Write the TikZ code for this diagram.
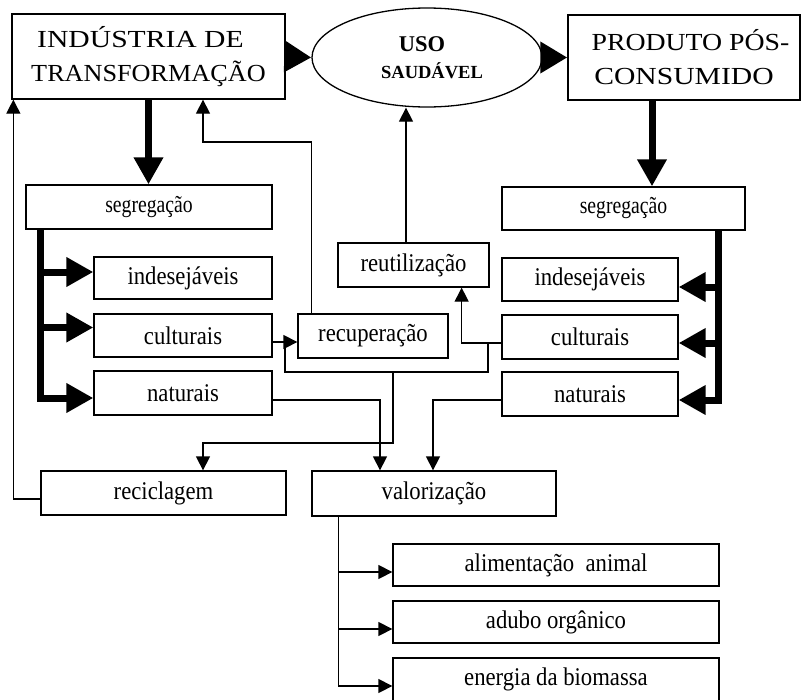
\documentclass[tikz,border=0pt]{standalone}
\usepackage{fontspec}
\usepackage{graphicx}
\setmainfont{Liberation Serif}
\newfontfamily\titlefont[FakeStretch=1.07]{Liberation Serif}
\newfontfamily\labelfont[FakeStretch=0.89]{Liberation Serif}
\newfontfamily\narrowfont[FakeStretch=0.82]{Liberation Serif}
\usetikzlibrary{arrows.meta,shapes.geometric}

\begin{document}
\begin{tikzpicture}[x=1pt,y=-1pt,
  sz/.style 2 args={minimum width=#1pt, minimum height=#2pt},
  box/.style={draw, line width=1.3pt, inner sep=0pt,
    font=\labelfont\fontsize{25.5}{28}\selectfont},
  sortbox/.style={box, font=\narrowfont\fontsize{24}{28}\selectfont},
  titlebox/.style={box, align=center, font=\titlefont\fontsize{24.5}{34}\selectfont},
  wire/.style={line width=1.3pt},
  feed/.style={wire, -{Triangle[length=14pt,width=14pt]}},
  fat/.style={line width=7pt, -{Triangle[length=27pt,width=28pt]}},
  fathead/.style={line width=7pt, -{Triangle[length=27pt,width=30pt]}},
]
\useasboundingbox (0,0) rectangle (803,699);

% main stages
\node[titlebox, sz={273}{85}] (ind) at (148.5,56.5)
  {\kern-16pt\scalebox{1.13}[1]{INDÚSTRIA DE}\\TRANSFORMAÇÃO};
\node[draw, line width=1.3pt, ellipse, inner sep=0pt, sz={230}{99}, align=center,
  font=\bfseries\fontsize{22.5}{27}\selectfont]
  (uso) at (427,57.5)
  {\kern-10pt USO\\
   {\fontsize{18.5}{22}\selectfont\kern10pt SAUDÁVEL}};
\node[titlebox, sz={232}{85}] (prod) at (684,57.5)
  {\kern13pt\scalebox{1.06}[1]{PRODUTO PÓS-}\\\scalebox{1.13}[1]{CONSUMIDO}};

% industrial side
\node[sortbox, sz={246}{44}] (ls) at (149,207) {segregação};
\node[box, sz={178}{42}] (li) at (183,278) {indesejáveis};
\node[box, sz={178}{43}] (lc) at (183,335.5) {culturais};
\node[box, sz={178}{44}] (ln) at (183,393) {naturais};

% post-consumer side
\node[sortbox, sz={243}{43}] (rs) at (623.5,208.5) {segregação};
\node[box, sz={176}{43}] (ri) at (590,279.5) {indesejáveis\hspace{36pt}};
\node[box, sz={176}{44}] (rc) at (590,337) {culturais};
\node[box, sz={176}{44}] (rn) at (590,394) {naturais};

% treatment
\node[box, sz={150}{44}] (rec) at (373,336) {recuperação};
\node[box, sz={151}{44}] (reu) at (413.5,265) {reutilização\hspace{12pt}};
\node[box, sz={245}{44}] (rcl) at (163.5,493) {reciclagem};
\node[box, sz={244}{45}] (val) at (434,493.5) {valorização};

% uses of valorização
\node[box, sz={326}{42}] (ali) at (556,565) {alimentação\ \ animal};
\node[box, sz={326}{42}] (adu) at (556,622) {adubo orgânico};
\node[box, sz={326}{43}] (ene) at (556,679.5) {energia da biomassa};

% main flow
\draw[fathead] (ind.east) -- (uso.west);
\draw[fathead] (uso.east) -- (prod.west);
\draw[fat] (ind.south) -- (ind.south |- ls.north);
\draw[fat] ([xshift=-32pt]prod.south) -- ([xshift=-32pt]prod.south |- rs.north);

% segregation buses
\coordinate (lbus) at ([xshift=15pt]ls.south west);
\coordinate (li-in) at ([yshift=6pt]li.west);
\coordinate (lc-in) at ([yshift=8pt]lc.west);
\coordinate (ln-in) at ([yshift=-5pt]ln.west);
\draw[fat] (lbus) |- (ln-in);
\draw[fat] (lbus |- li-in) -- (li-in);
\draw[fat] (lbus |- lc-in) -- (lc-in);

\coordinate (rbus) at ([xshift=-27pt]rs.south east);
\coordinate (ri-in) at ([yshift=-7.5pt]ri.east);
\coordinate (rc-in) at ([yshift=-6pt]rc.east);
\coordinate (rn-in) at ([yshift=-6pt]rn.east);
\draw[fat] (rbus) |- (rn-in);
\draw[fat] (rbus |- ri-in) -- (ri-in);
\draw[fat] (rbus |- rc-in) -- (rc-in);

% cultural waste: recovery and reuse
\coordinate (lc-out) at ([yshift=-6.5pt]lc.east);
\draw[feed] (lc-out) -- (lc-out -| rec.west);
\coordinate (rc-out) at ([yshift=-6pt]rc.west);
\draw[feed] (rc-out) -| ([xshift=-28pt]reu.south east);
\draw[wire] (488,0 |- rc-out) |- (285,372) -- (285,0 |- lc-out);
\draw[feed] (393,372) |- (203,443) -- (203,0 |- rcl.north);
\draw[feed] ([xshift=14pt]rec.north west) |- (203,142) -- (203,0 |- ind.south);
\draw[feed] ([xshift=-7.5pt]reu.north) -- ([xshift=-7.5pt]reu.north |- uso.south);

% natural waste to valorização
\draw[feed] ([yshift=-7pt]ln.east) -| (380,0 |- val.north);
\draw[feed] ([yshift=-6pt]rn.west) -| (433,0 |- val.north);

% recycling back to industry
\draw[feed] ([yshift=-6pt]rcl.west) -| ([xshift=2pt]ind.south west);

% valorização outlets
\coordinate (vtrunk) at ([xshift=27pt]val.south west);
\coordinate (ali-in) at ([yshift=-7pt]ali.west);
\coordinate (adu-in) at ([yshift=-7pt]adu.west);
\coordinate (ene-in) at ([yshift=-6.5pt]ene.west);
\draw[feed] (vtrunk) |- (ene-in);
\draw[feed] (vtrunk |- ali-in) -- (ali-in);
\draw[feed] (vtrunk |- adu-in) -- (adu-in);
\end{tikzpicture}
\end{document}
